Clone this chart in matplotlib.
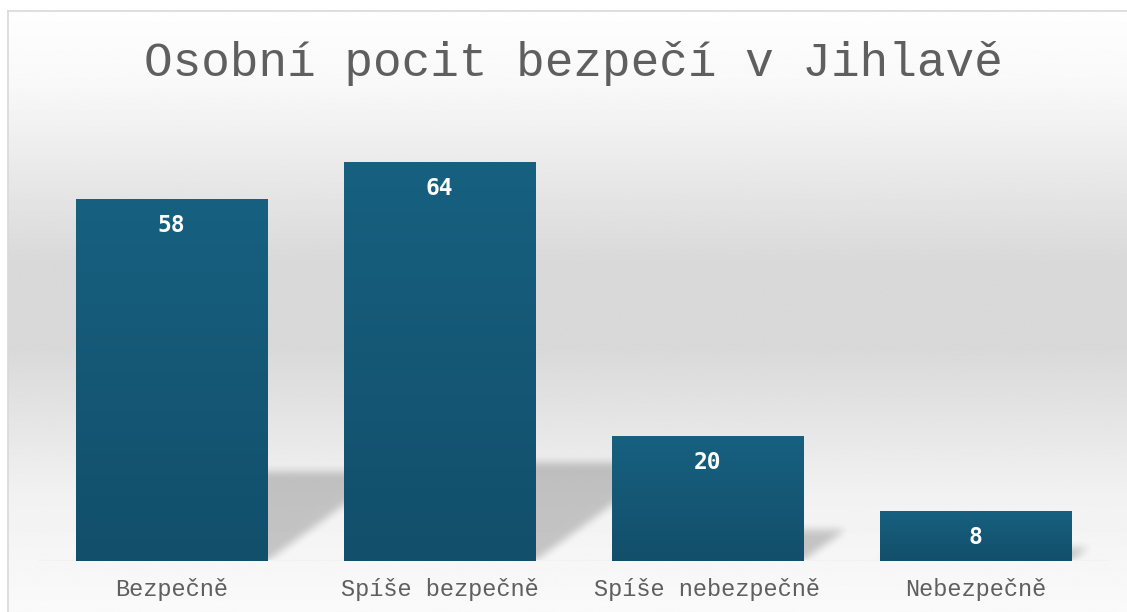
import matplotlib.pyplot as plt
import numpy as np
from matplotlib.lines import Line2D

# data
categories = ['Bezpečně', 'Spíše bezpečně', 'Spíše nebezpečně', 'Nebezpečně']
values = [58, 64, 20, 8]
title = 'Osobní pocit bezpečí v Jihlavě'

W, H = 1127, 612
fig = plt.figure(figsize=(W / 100, H / 100), dpi=100)
fig.patch.set_facecolor('white')

# chart area background (grey band in the middle, light top and bottom)
left_px, top_px = 8, 11
bg = fig.add_axes([left_px / W, 0, 1 - left_px / W, (H - top_px) / H])
t = np.linspace(0, 1, 400)  # 0 = top of chart area
stops = [0.0, 0.12, 0.42, 0.56, 0.80, 1.0]
greys = [0.995, 0.975, 0.85, 0.85, 0.945, 0.98]
g = np.interp(t, stops, greys)
bg.imshow(np.repeat(g[:, None], 2, axis=1), cmap='gray', vmin=0, vmax=1,
          aspect='auto', extent=[0, 1, 0, 1], interpolation='bilinear')
bg.axis('off')

# border of the chart area
fig.add_artist(Line2D([left_px / W, left_px / W], [0, (H - top_px) / H],
                      color='#d9d9d9', lw=1.2))
fig.add_artist(Line2D([left_px / W, 1], [(H - top_px) / H, (H - top_px) / H],
                      color='#d9d9d9', lw=1.2))

# plot area
ax_left, ax_width = 37.5 / W, 1072 / W
ax_bottom = 51 / H
ymax = 70
px_per_unit = 6.24
ax = fig.add_axes([ax_left, ax_bottom, ax_width, ymax * px_per_unit / H])
ax.set_facecolor('none')

x = np.arange(len(categories))
bar_w = 0.713
bars = ax.bar(x, values, width=bar_w, color='#155a78', zorder=3)

# vertical gradient in every bar
grad = np.linspace(0, 1, 100)[:, None]
top_c = np.array([0x17, 0x60, 0x80]) / 255
bot_c = np.array([0x12, 0x4f, 0x6b]) / 255
grad_img = top_c * (1 - grad[..., None]) + bot_c * grad[..., None]
grad_img = np.repeat(grad_img, 2, axis=1)
for b in bars:
    im = ax.imshow(grad_img, aspect='auto', zorder=4, interpolation='bilinear',
                   extent=[b.get_x(), b.get_x() + b.get_width(), 0, b.get_height()])
    im.set_clip_path(b)

# soft perspective shadows behind the bars
x_lo, x_hi = -0.5, len(categories) - 0.5
y_hi = 30
nx, ny = 1072, int(y_hi * px_per_unit)
gx = np.linspace(x_lo, x_hi, nx)
gy = np.linspace(0, y_hi, ny)
GX, GY = np.meshgrid(gx, gy)
shear = 1.37 * px_per_unit / 268
mask = np.zeros_like(GX)
for xi, v in zip(x, values):
    sh = 0.245 * v
    x0 = xi - bar_w / 2 + shear * GY
    x1 = xi + bar_w / 2 + shear * GY
    mask[(GY <= sh) & (GX >= x0) & (GX <= x1)] = 1.0


def box_blur(a, k):
    ker = np.ones(k) / k
    a = np.apply_along_axis(lambda r: np.convolve(r, ker, mode='same'), 1, a)
    a = np.apply_along_axis(lambda c: np.convolve(c, ker, mode='same'), 0, a)
    return a


mask = box_blur(box_blur(mask, 9), 9)
shadow = np.zeros((ny, nx, 4))
shadow[..., 3] = mask * 0.2
ax.imshow(shadow, origin='lower', aspect='auto', zorder=2,
          extent=[x_lo, x_hi, 0, y_hi], interpolation='bilinear')

ax.axhline(0, color='#f2f2f2', lw=1.5, zorder=2.5)

# data labels
for b, v in zip(bars, values):
    ax.annotate(str(v), (b.get_x() + b.get_width() / 2, b.get_height()),
                xytext=(0, -19), textcoords='offset points', ha='center',
                va='center', color='white', fontsize=16.5, fontweight='bold',
                family='DejaVu Sans Mono', zorder=5)

ax.set_xlim(x_lo, x_hi)
ax.set_ylim(0, ymax)
ax.set_xticks(x)
ax.set_xticklabels(categories, family='Liberation Mono', fontsize=17,
                   color='#5f5f5f')
ax.tick_params(axis='x', length=0, pad=12)
ax.set_yticks([])
for s in ax.spines.values():
    s.set_visible(False)

fig.text(573 / W, 1 - 76 / H, title, ha='center', va='baseline',
         family='Liberation Mono', fontsize=34.4, color='#5f5f5f')

fig.savefig('out.png', dpi=100)
